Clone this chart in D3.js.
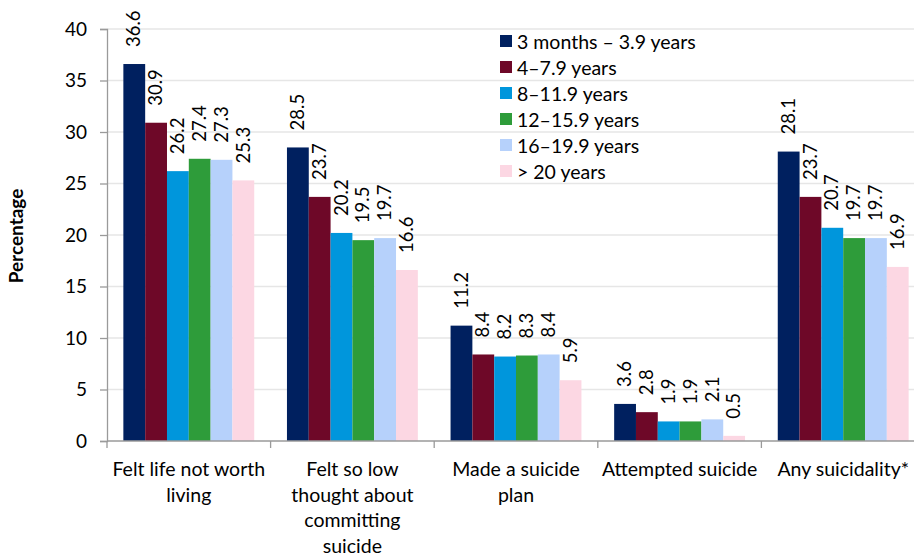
<!DOCTYPE html>
<html><head><meta charset="utf-8">
<script src="https://cdn.jsdelivr.net/npm/d3@7"></script>
<style>body{margin:0;background:#fff}svg{display:block;font-family:Lato,"Open Sans",sans-serif}</style>
</head><body><svg id="c" width="914" height="555"></svg>
<script>
const categories = ["Felt life not worth living","Felt so low thought about committing suicide","Made a suicide plan","Attempted suicide","Any suicidality*"];
const categoryLines = [["Felt life not worth","living"],["Felt so low","thought about","committing","suicide"],["Made a suicide","plan"],["Attempted suicide"],["Any suicidality*"]];
const seriesNames = ["3 months \u2013 3.9 years","4\u20137.9 years","8\u201311.9 years","12\u201315.9 years","16\u201319.9 years","> 20 years"];
const s1 = [36.6, 28.5, 11.2, 3.6, 28.1];
const s2 = [30.9, 23.7, 8.4, 2.8, 23.7];
const s3 = [26.2, 20.2, 8.2, 1.9, 20.7];
const s4 = [27.4, 19.5, 8.3, 1.9, 19.7];
const s5 = [27.3, 19.7, 8.4, 2.1, 19.7];
const s6 = [25.3, 16.6, 5.9, 0.5, 16.9];
const seriesValues = [s1,s2,s3,s4,s5,s6];
const colors = ["#00205f","#6e0828","#0096dc","#2e9c3a","#b6d1fb","#fcd7e3"];
const yTicks = [0,5,10,15,20,25,30,35,40];

const svg = d3.select("#c");
const L = 107, R = 925, T = 29, B = 441;
const x0 = d3.scaleBand().domain(categories).range([L,R]).paddingInner(0).paddingOuter(0);
const x1 = d3.scaleBand().domain(seriesNames)
  .range([x0.bandwidth()*0.1, x0.bandwidth()*0.9]).paddingInner(0).paddingOuter(0);
const y = d3.scaleLinear().domain([0,40]).range([B,T]);

// gridlines
svg.append("g").selectAll("line").data(yTicks.filter(d=>d>0)).join("line")
  .attr("x1",L).attr("x2",R).attr("y1",d=>y(d)).attr("y2",d=>y(d))
  .attr("stroke","#e6e6e6").attr("stroke-width",1.3);

// y axis
const ya = svg.append("g").attr("transform",`translate(${L},0)`)
  .call(d3.axisLeft(y).tickValues(yTicks).tickSize(7).tickPadding(13));
ya.select(".domain").attr("stroke","#9a9a9a").attr("stroke-width",1.3);
ya.selectAll(".tick line").attr("stroke","#9a9a9a").attr("stroke-width",1.3);
ya.selectAll(".tick text").attr("font-size",19).attr("fill","#000").attr("font-family","Lato,sans-serif");

// bars
const groups = svg.append("g").selectAll("g").data(categories).join("g")
  .attr("transform",c=>`translate(${x0(c)},0)`);
groups.each(function(c,ci){
  const g = d3.select(this);
  seriesNames.forEach((s,si)=>{
    const v = seriesValues[si][ci];
    g.append("rect").attr("x",x1(s)).attr("width",x1.bandwidth())
      .attr("y",y(v)).attr("height",B-y(v)).attr("fill",colors[si]);
    const cx = x1(s)+x1.bandwidth()/2+1.5;
    g.append("text").attr("transform",`translate(${cx},${y(v)-17}) rotate(-90)`)
      .attr("dominant-baseline","middle").attr("text-anchor","start")
      .attr("font-size",18.5).attr("fill","#000").text(v.toFixed(1));
  });
});

// x axis
svg.append("line").attr("x1",L).attr("x2",R).attr("y1",B).attr("y2",B).attr("stroke","#9a9a9a").attr("stroke-width",1.3);
const bounds = categories.map(c=>x0(c)).concat([R]);
svg.append("g").selectAll("line").data(bounds).join("line")
  .attr("x1",d=>d).attr("x2",d=>d).attr("y1",B).attr("y2",B+7).attr("stroke","#9a9a9a").attr("stroke-width",1.3);
categories.forEach((c,ci)=>{
  const t = svg.append("text").attr("x",x0(c)+x0.bandwidth()/2).attr("text-anchor","middle")
    .attr("font-size",19.5).attr("fill","#000");
  categoryLines[ci].forEach((ln,li)=>{
    t.append("tspan").attr("x",x0(c)+x0.bandwidth()/2).attr("y",476+li*25.5).text(ln);
  });
});

// y title
svg.append("text").attr("transform",`translate(23,${(T+B)/2+1}) rotate(-90)`)
  .attr("text-anchor","middle").attr("font-size",19).attr("font-weight","bold").attr("fill","#000").text("Percentage");

// legend
const lg = svg.append("g").selectAll("g").data(seriesNames).join("g")
  .attr("transform",(d,i)=>`translate(500,${41+i*26})`);
lg.append("rect").attr("x",0).attr("y",-6).attr("width",12).attr("height",12).attr("fill",(d,i)=>colors[i]);
lg.append("text").attr("x",17).attr("y",0).attr("dominant-baseline","central").attr("font-size",19.5).attr("fill","#000").text(d=>d);
</script></body></html>
